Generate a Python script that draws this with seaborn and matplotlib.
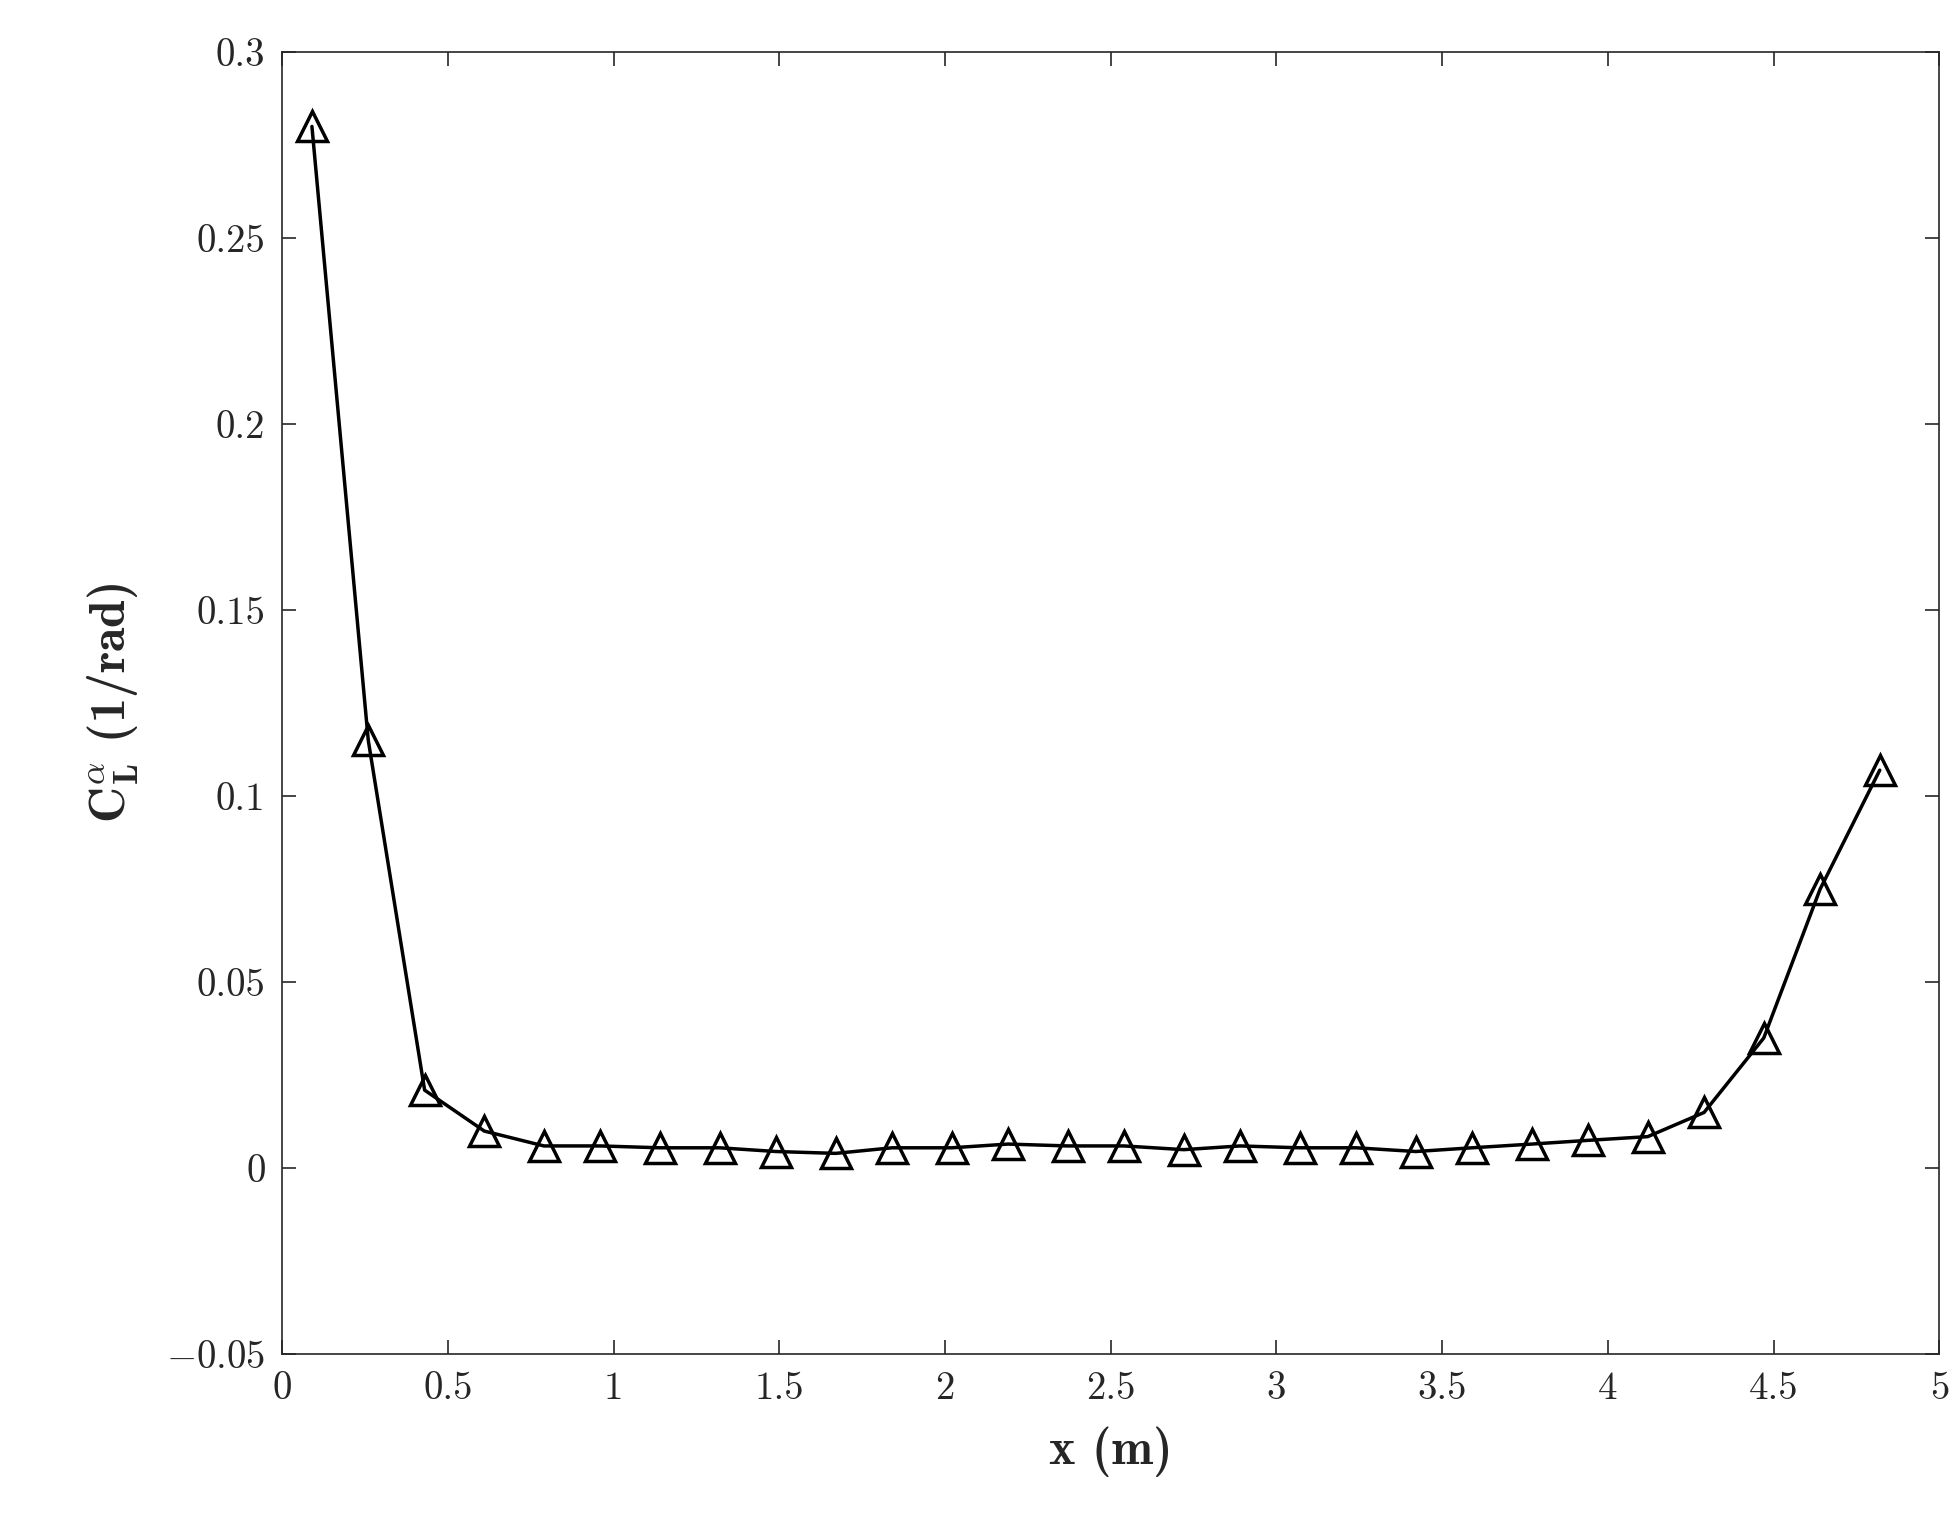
import matplotlib
matplotlib.use("Agg")
import matplotlib.pyplot as plt
import seaborn as sns
import pandas as pd

# Lift-slope distribution along the body
x_m = [0.09, 0.26, 0.43, 0.61, 0.79, 0.96, 1.14, 1.32, 1.49, 1.67, 1.84, 2.02, 2.19, 2.37,
       2.54, 2.72, 2.89, 3.07, 3.24, 3.42, 3.59, 3.77, 3.94, 4.12, 4.29, 4.47, 4.64, 4.82]
cl_alpha = [0.280, 0.115, 0.021, 0.010, 0.006, 0.006, 0.0055, 0.0055, 0.0045, 0.004,
            0.0055, 0.0055, 0.0065, 0.006, 0.006, 0.005, 0.006, 0.0055, 0.0055, 0.0045,
            0.0055, 0.0065, 0.0075, 0.0085, 0.015, 0.035, 0.075, 0.107]
x_ticks = [0, 0.5, 1, 1.5, 2, 2.5, 3, 3.5, 4, 4.5, 5]
y_ticks = [-0.05, 0, 0.05, 0.1, 0.15, 0.2, 0.25, 0.3]

df = pd.DataFrame({"x": x_m, "cl": cl_alpha})

sns.set_style("ticks")
plt.rcParams["font.family"] = ["cmr10", "DejaVu Serif"]
plt.rcParams["mathtext.fontset"] = "cm"
plt.rcParams["axes.formatter.use_mathtext"] = True

fig = plt.figure(figsize=(19.59, 15.32), dpi=100)
ax = fig.add_axes([0.144, 0.116, 0.846, 0.85])

sns.lineplot(data=df, x="x", y="cl", ax=ax, color="black", linewidth=2.5,
             marker="^", markersize=22, markerfacecolor="none",
             markeredgecolor="black", markeredgewidth=2.5)

ax.set_xlim(0, 5)
ax.set_ylim(-0.05, 0.3)
ax.set_xticks(x_ticks)
ax.set_yticks(y_ticks)
ax.set_xticklabels([f"{t:g}" for t in x_ticks])
ax.set_yticklabels([("$-$0.05" if t < 0 else f"{t:g}") for t in y_ticks])
ax.tick_params(direction="in", top=True, right=True, length=10, width=1.2, labelsize=28, pad=12)
for s in ax.spines.values():
    s.set_linewidth(1.2)

ax.set_xlabel("x (m)", fontsize=36, family="cmb10", labelpad=14)
ax.set_ylabel(r"$\mathbf{C_L^{\alpha}}$ (1/rad)", fontsize=36, family="cmb10", labelpad=18)

fig.savefig("out.png", dpi=100)
